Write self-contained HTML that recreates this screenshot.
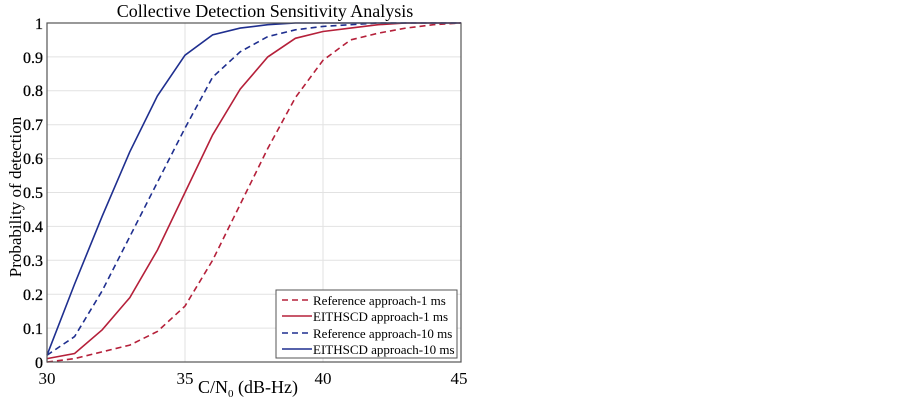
<!DOCTYPE html>
<html><head><meta charset="utf-8"><style>
html,body{margin:0;padding:0;background:#fff;}
svg{display:block;font-family:"Liberation Serif",serif;}
</style></head><body>
<svg width="903" height="403" viewBox="0 0 903 403" xmlns="http://www.w3.org/2000/svg">
<rect width="903" height="403" fill="#fff"/>
<g stroke="#e2e2e2" stroke-width="1">
<line x1="185" y1="23" x2="185" y2="362"/><line x1="323" y1="23" x2="323" y2="362"/>
<line x1="47" y1="328.1" x2="461" y2="328.1"/><line x1="47" y1="294.2" x2="461" y2="294.2"/>
<line x1="47" y1="260.3" x2="461" y2="260.3"/><line x1="47" y1="226.4" x2="461" y2="226.4"/>
<line x1="47" y1="192.5" x2="461" y2="192.5"/><line x1="47" y1="158.6" x2="461" y2="158.6"/>
<line x1="47" y1="124.7" x2="461" y2="124.7"/><line x1="47" y1="90.8" x2="461" y2="90.8"/>
<line x1="47" y1="56.9" x2="461" y2="56.9"/>
</g>
<g fill="none" stroke-width="1.6">
<polyline stroke="#b5203a" stroke-dasharray="6,4" points="47,362 74.6,358.6 102.2,351.8 129.8,345.1 157.4,331.5 185,306.1 212.6,260.3 240.2,204.4 267.8,148.4 295.4,97.6 323,60.3 350.6,39.9 378.2,33.2 405.8,28.1 433.4,24.7 461,23"/>
<polyline stroke="#b5203a" points="47,358.6 74.6,353.5 102.2,329.8 129.8,297.6 157.4,250.1 185,192.5 212.6,134.9 240.2,89.1 267.8,56.9 295.4,38.3 323,31.5 350.6,28.1 378.2,24.7 405.8,23 461,23"/>
<polyline stroke="#1f2f8f" stroke-dasharray="6,4" points="47,355.2 74.6,336.6 102.2,290.8 129.8,236.6 157.4,182.3 185,128.1 212.6,77.2 240.2,51.8 267.8,36.6 295.4,29.8 323,26.4 350.6,24.7 378.2,23 461,23"/>
<polyline stroke="#1f2f8f" points="47,355.2 74.6,284 102.2,216.2 129.8,151.8 157.4,95.9 185,55.2 212.6,34.9 240.2,28.1 267.8,24.7 295.4,23 461,23"/>
</g>
<rect x="47" y="23" width="414" height="339" fill="none" stroke="#555" stroke-width="1.2"/>
<g font-size="16" text-anchor="end" fill="#000" stroke="#000" stroke-width="0.3">
<text x="43" y="368">0</text><text x="43" y="334">0.1</text><text x="43" y="300">0.2</text>
<text x="43" y="266">0.3</text><text x="43" y="232">0.4</text><text x="43" y="198">0.5</text>
<text x="43" y="164">0.6</text><text x="43" y="130">0.7</text><text x="43" y="96">0.8</text>
<text x="43" y="63">0.9</text><text x="43" y="29">1</text>
</g>
<g font-size="17" text-anchor="middle" fill="#000">
<text x="47" y="384">30</text><text x="185" y="384">35</text><text x="323" y="384">40</text><text x="459" y="384">45</text>
<text x="248" y="393" font-size="18">C/N<tspan font-size="11" dy="4">0</tspan><tspan dy="-4"> (dB-Hz)</tspan></text>
<text x="265" y="17" font-size="18">Collective Detection Sensitivity Analysis</text>
<text transform="translate(21,197) rotate(-90)" font-size="17">Probability of detection</text>
</g>
<rect x="276" y="290" width="181" height="68" fill="#fff" stroke="#555" stroke-width="1"/>
<g stroke-width="1.6">
<line x1="282" y1="300" x2="312" y2="300" stroke="#b5203a" stroke-dasharray="6,4"/>
<line x1="282" y1="316" x2="312" y2="316" stroke="#b5203a"/>
<line x1="282" y1="333" x2="312" y2="333" stroke="#1f2f8f" stroke-dasharray="6,4"/>
<line x1="282" y1="349" x2="312" y2="349" stroke="#1f2f8f"/>
</g>
<g font-size="13" fill="#000">
<text x="313" y="305">Reference approach-1 ms</text>
<text x="313" y="321">EITHSCD approach-1 ms</text>
<text x="313" y="338">Reference approach-10 ms</text>
<text x="313" y="354">EITHSCD approach-10 ms</text>
</g>
</svg>
</body></html>
